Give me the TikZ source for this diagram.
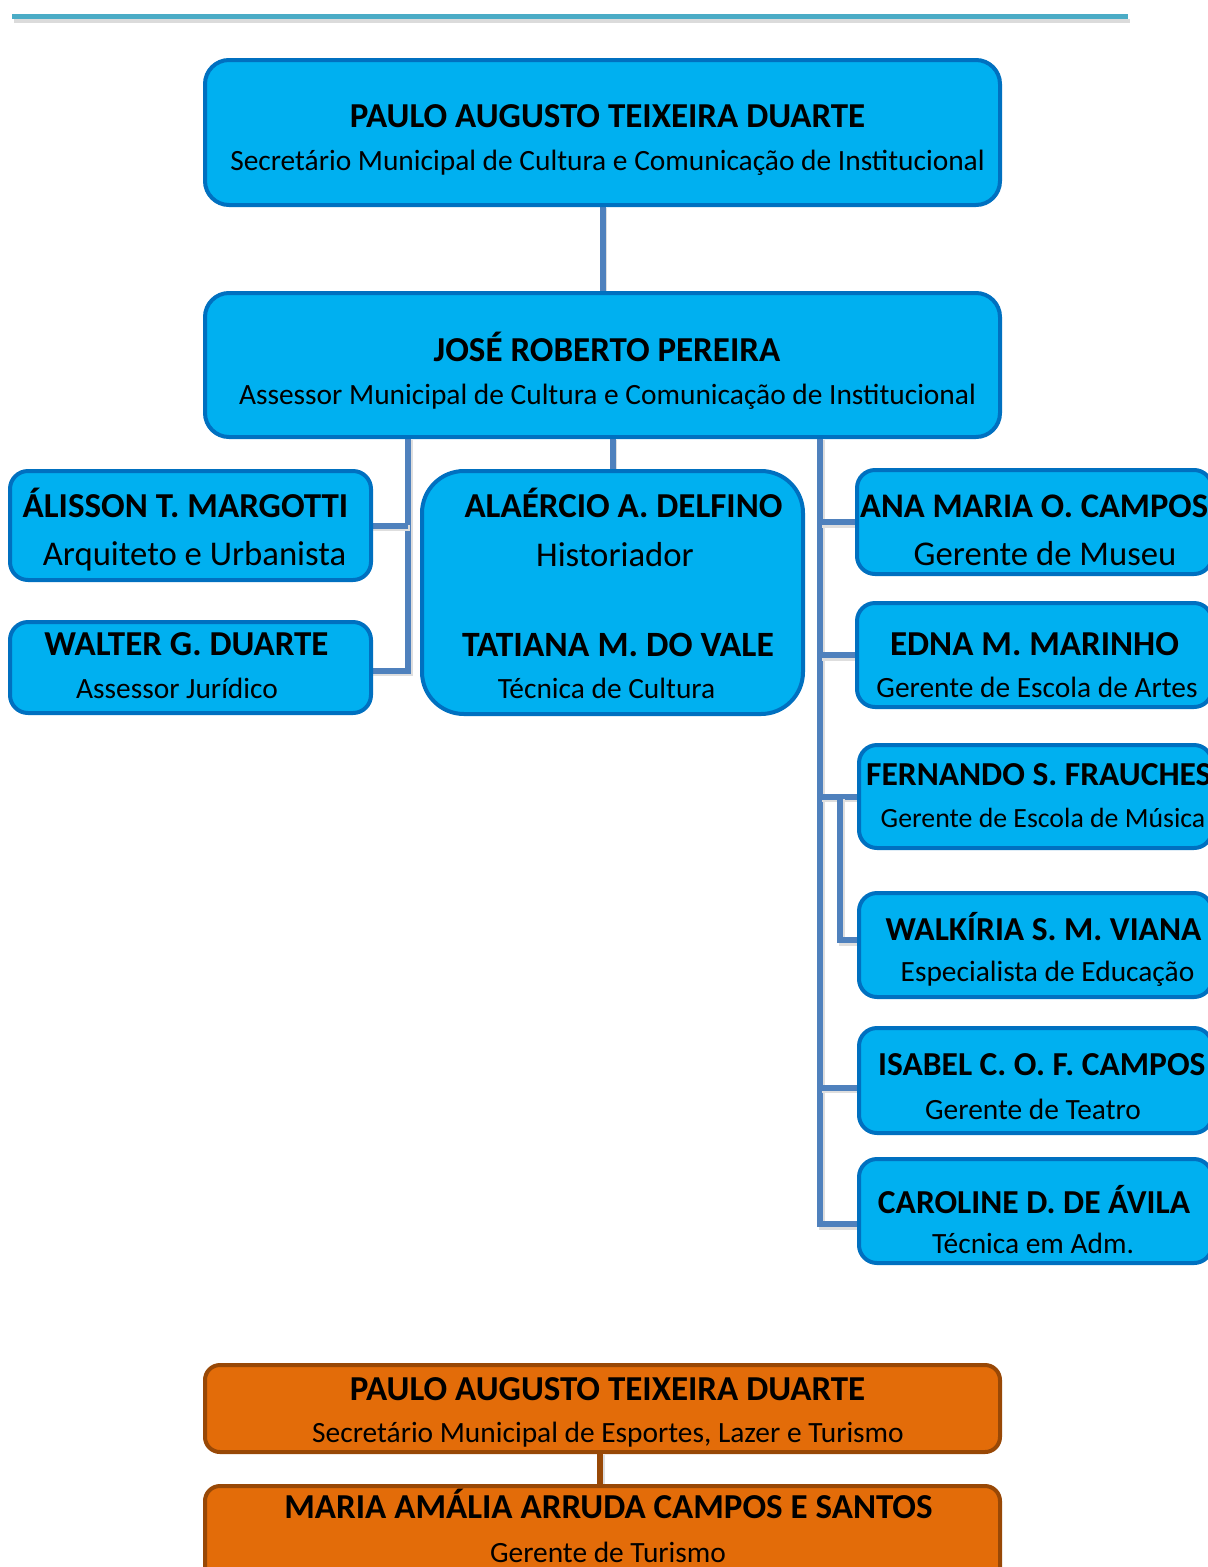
\documentclass[tikz,border=0pt]{standalone}
\usepackage{fontspec}
\setmainfont{Carlito}
\usetikzlibrary{calc}
\definecolor{boxfill}{HTML}{00B0F0}
\definecolor{boxline}{HTML}{0070C0}
\definecolor{connc}{HTML}{4F81BD}
\definecolor{orfill}{HTML}{E36C09}
\definecolor{orline}{HTML}{984806}
\definecolor{toplinec}{HTML}{4BACC6}
\pgfdeclarelayer{bg}
\pgfsetlayers{bg,main}
\tikzset{
  bluebox/.style={draw=boxline, fill=boxfill, line width=4pt, rounded corners=18pt, inner sep=0pt, outer sep=0pt},
  orbox/.style={draw=orline, fill=orfill, line width=4pt, rounded corners=15pt, inner sep=0pt, outer sep=0pt},
  conn/.style={draw=connc, line width=6pt, preaction={draw=black!13, line width=6pt, transform canvas={shift={(1.5pt,-2.5pt)}}}},
  orconn/.style={draw=orline, line width=6pt, preaction={draw=black!13, line width=6pt, transform canvas={shift={(1.5pt,-2.5pt)}}}},
  tt/.style={font=\fontsize{35}{40}\selectfont\bfseries, inner sep=0pt, anchor=base},
  tts/.style={font=\fontsize{33.5}{40}\selectfont\bfseries, inner sep=0pt, anchor=base},
  ttw/.style={tt, anchor=base west},
  ts/.style={font=\fontsize{29.4}{34}\selectfont, inner sep=0pt, anchor=base},
  tl/.style={font=\fontsize{34.7}{40}\selectfont, inner sep=0pt, anchor=base},
}
\begin{document}
\begin{tikzpicture}[x=1pt, y=-1pt]
\useasboundingbox (0,0) rectangle (1208,1567);
% top decorative line
\draw[line width=4pt, black!14] (14,21) -- (1130,21);
\draw[line width=5pt, toplinec] (12,16.5) -- (1128,16.5);

% boxes
\node[bluebox, rounded corners=24pt, minimum width=795pt, minimum height=145pt] (b1) at (602.5,132.5) {};
\node[bluebox, rounded corners=24pt, minimum width=795pt, minimum height=144pt] (b2) at (602.5,365) {};
\node[bluebox, minimum width=361pt, minimum height=109pt] (alisson) at (190.5,525.5) {};
\node[bluebox, minimum width=361pt, minimum height=91pt] (walter) at (190.5,667.5) {};
\node[bluebox, rounded corners=42pt, minimum width=381pt, minimum height=243pt] (center) at (612.5,592.5) {};
\node[bluebox, minimum width=355pt, minimum height=104pt] (ana) at (1034.5,522) {};
\node[bluebox, minimum width=355pt, minimum height=104pt] (edna) at (1034.5,655) {};
\node[bluebox, minimum width=353pt, minimum height=103pt] (fernando) at (1035.5,796.5) {};
\node[bluebox, minimum width=353pt, minimum height=104pt] (walkiria) at (1035.5,945) {};
\node[bluebox, minimum width=353pt, minimum height=105pt] (isabel) at (1035.5,1080.5) {};
\node[bluebox, minimum width=353pt, minimum height=104pt] (caroline) at (1035.5,1211) {};
\node[orbox, minimum width=795pt, minimum height=87pt] (or1) at (602.5,1408.5) {};
\node[orbox, minimum width=795pt, minimum height=104pt] (or2) at (602.5,1538) {};

% connector guide coordinates
\coordinate (lx) at (408,0);
\coordinate (rx) at (820,0);
\coordinate (sx) at (840,0);
\coordinate (ox) at (600,0);

\begin{pgfonlayer}{bg}
\draw[conn] (b1) -- (b2);
\draw[conn] (center.north) -- (center.north |- b2.south);
\draw[conn] (b2.south -| lx) |- ([yshift=-3pt]walter.east);
\draw[conn] (lx |- alisson.east) -- (alisson.east);
\draw[conn] (b2.south -| rx) |- ([yshift=-13pt]caroline.west);
\draw[conn] (rx |- ana.west) -- (ana.west);
\draw[conn] (rx |- edna.west) -- (edna.west);
\draw[conn] (rx |- fernando.west) -- (fernando.west);
\draw[conn] ($(rx |- isabel.west)+(0,7)$) -- ([yshift=-7pt]isabel.west);
\draw[conn] (sx |- fernando.west) |- ([yshift=5pt]walkiria.west);
\draw[orconn] (or1.south -| ox) -- (or2.north -| ox);
\end{pgfonlayer}

% texts
\node[tt] (t1) at (607.5,127) {PAULO AUGUSTO TEIXEIRA DUARTE};
\node[ts] (s1) at (607.5,170) {Secretário Municipal de Cultura e Comunicação de Institucional};
\node[tt] (t2) at (607,361) {JOSÉ ROBERTO PEREIRA};
\node[ts] (s2) at (607.5,404) {Assessor Municipal de Cultura e Comunicação de Institucional};
\node[tt] (t3) at (185.5,517) {ÁLISSON T. MARGOTTI};
\node[tl] (s3) at (194.5,565) {Arquiteto e Urbanista};
\node[tt] (t4) at (186.5,655) {WALTER G. DUARTE};
\node[ts] (s4) at (177,698) {Assessor Jurídico};
\node[tt] (t5) at (623.5,517) {ALAÉRCIO A. DELFINO};
\node[tl] (s5) at (615,566) {Historiador};
\node[tt, font=\fontsize{35.6}{40}\selectfont\bfseries] (t6) at (618,656) {TATIANA M. DO VALE};
\node[ts] (s6) at (606.5,698) {Técnica de Cultura};
\node[ttw, font=\fontsize{34.5}{40}\selectfont\bfseries] (t7) at (860,517) {ANA MARIA O. CAMPOS};
\node[tl] (s7) at (1045,565) {Gerente de Museu};
\node[tt] (t8) at (1034.5,655) {EDNA M. MARINHO};
\node[ts] (s8) at (1037,697) {Gerente de Escola de Artes};
\node[tts, anchor=base west] (t9) at (866,785) {FERNANDO S. FRAUCHES};
\node[ts, font=\fontsize{27.8}{34}\selectfont] (s9) at (1043,827) {Gerente de Escola de Música};
\node[tts] (t10) at (1043.5,940) {WALKÍRIA S. M. VIANA};
\node[ts] (s10) at (1047.5,981) {Especialista de Educação};
\node[tts, anchor=base west] (t11) at (878,1075) {ISABEL C. O. F. CAMPOS};
\node[ts] (s11) at (1033,1119) {Gerente de Teatro};
\node[tts] (t12) at (1034,1213) {CAROLINE D. DE ÁVILA};
\node[ts] (s12) at (1033,1253) {Técnica em Adm.};
\node[tt] (t13) at (607.5,1400) {PAULO AUGUSTO TEIXEIRA DUARTE};
\node[ts] (s13) at (608,1442) {Secretário Municipal de Esportes, Lazer e Turismo};
\node[tt] (t14) at (608.5,1518) {MARIA AMÁLIA ARRUDA CAMPOS E SANTOS};
\node[ts] (s14) at (608,1562) {Gerente de Turismo};
\end{tikzpicture}
\end{document}
